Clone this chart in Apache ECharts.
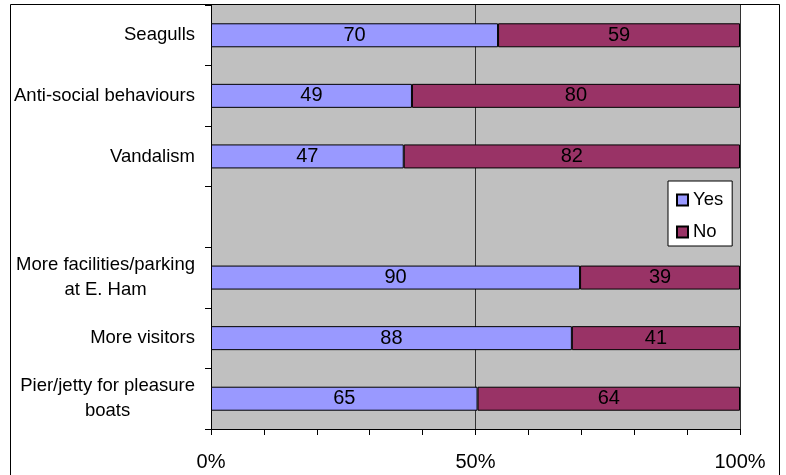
<!DOCTYPE html>
<html><head><meta charset="utf-8">
<script src="https://cdn.jsdelivr.net/npm/echarts@6/dist/echarts.min.js"></script>
<style>html,body{margin:0;padding:0;background:#fff}#c{width:786px;height:475px}</style>
</head><body><div id="c"></div>
<script>
const categories = ['Seagulls', 'Anti-social behaviours', 'Vandalism', '', 'More facilities/parking\nat E. Ham', 'More visitors', 'Pier/jetty for pleasure\nboats'];
const yesCounts = [70, 49, 47, null, 90, 88, 65];
const noCounts = [59, 80, 82, null, 39, 41, 64];
const seriesNames = ['Yes', 'No'];
const xTickLabels = { 0: '0%', 50: '50%', 100: '100%' };

const FONT = "'Liberation Sans', Arial, sans-serif";
function pct(a, b, i) { return a[i] == null ? null : a[i] / (a[i] + b[i]) * 100; }
const yesPct = yesCounts.map((v, i) => pct(yesCounts, noCounts, i));
const noPct = noCounts.map((v, i) => pct(noCounts, yesCounts, i));

const chart = echarts.init(document.getElementById('c'), null, { renderer: 'canvas' });
function barSeries(name, data, counts, color) {
  return {
    name: name, type: 'bar', stack: 'total', barWidth: 24, data: data,
    itemStyle: { color: color, borderColor: '#000', borderWidth: 1 },
    label: {
      show: true, position: 'inside', color: '#000', fontSize: 20, fontFamily: FONT,
      formatter: p => counts[p.dataIndex] == null ? '' : String(counts[p.dataIndex])
    }
  };
}
chart.setOption({
  animation: false,
  textStyle: { fontFamily: FONT },
  graphic: [{
    type: 'rect', silent: true, z: 100,
    shape: { x: 10.5, y: 4.5, width: 769, height: 500 },
    style: { fill: null, stroke: '#000', lineWidth: 1 }
  }],
  grid: { left: 211, right: 46, top: 5, bottom: 46, containLabel: false, show: true, backgroundColor: '#C0C0C0', borderWidth: 0 },
  legend: {
    orient: 'vertical', left: 668, top: 181, data: seriesNames,
    backgroundColor: '#fff', borderColor: '#000', borderWidth: 1,
    padding: [8, 9, 3, 8], itemGap: 10, itemWidth: 11, itemHeight: 11, icon: 'rect',
    textStyle: { fontSize: 18.5, color: '#000', fontFamily: FONT, lineHeight: 22 }
  },
  xAxis: {
    type: 'value', min: 0, max: 100, interval: 50,
    axisLine: { show: true, lineStyle: { color: '#000', width: 1 } },
    axisTick: { show: true, length: 6, lineStyle: { color: '#000' } },
    minorTick: { show: true, splitNumber: 5, length: 6, lineStyle: { color: '#000' } },
    splitLine: { show: true, lineStyle: { color: '#333', width: 1 } },
    axisLabel: { margin: 23, fontSize: 20, color: '#000', fontFamily: FONT, formatter: v => xTickLabels[v] || '' }
  },
  yAxis: {
    type: 'category', inverse: true, data: categories,
    axisLine: { show: true, lineStyle: { color: '#000', width: 1 } },
    axisTick: { show: true, length: 6, lineStyle: { color: '#000' } },
    splitLine: { show: false },
    axisLabel: {
      margin: 16, color: '#000', fontSize: 18.5, fontFamily: FONT, interval: 0,
      formatter: v => v.split('\n').map(s => '{c|' + s + '}').join('\n'),
      rich: { c: { align: 'center', fontSize: 18.5, lineHeight: 25, color: '#000', fontFamily: FONT } }
    }
  },
  series: [
    barSeries(seriesNames[0], yesPct, yesCounts, '#9999FF'),
    barSeries(seriesNames[1], noPct, noCounts, '#993366')
  ]
});
</script></body></html>
